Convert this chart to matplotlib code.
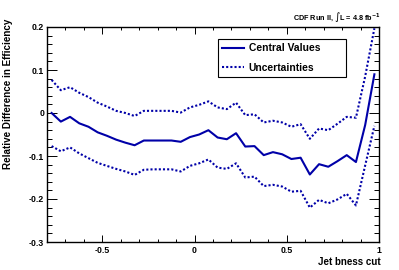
import matplotlib
matplotlib.use("Agg")
import matplotlib.pyplot as plt
from matplotlib.ticker import MultipleLocator

# bin centres of the b-ness cut scan
cut = [-0.775, -0.725, -0.675, -0.625, -0.575, -0.525, -0.475, -0.425, -0.375,
       -0.325, -0.275, -0.225, -0.175, -0.125, -0.075, -0.025, 0.025, 0.075,
       0.125, 0.175, 0.225, 0.275, 0.325, 0.375, 0.425, 0.475, 0.525, 0.575,
       0.625, 0.675, 0.725, 0.775, 0.825, 0.875, 0.925, 0.975]

central = [0.000, -0.020, -0.009, -0.024, -0.032, -0.045, -0.053, -0.062, -0.069,
           -0.075, -0.064, -0.064, -0.064, -0.064, -0.067, -0.056, -0.050, -0.040,
           -0.057, -0.061, -0.047, -0.078, -0.077, -0.098, -0.091, -0.096, -0.107, -0.104,
           -0.143, -0.119, -0.125, -0.112, -0.098, -0.114, -0.028, 0.090]

upper = [0.077, 0.053, 0.060, 0.047, 0.037, 0.024, 0.015, 0.005, 0.000,
         -0.007, 0.005, 0.005, 0.005, 0.005, 0.001, 0.013, 0.019, 0.027,
         0.013, 0.009, 0.024, -0.005, -0.003, -0.022, -0.018, -0.022, -0.032, -0.026,
         -0.060, -0.036, -0.040, -0.025, -0.009, -0.011, 0.085, 0.197]

lower = [-0.077, -0.089, -0.080, -0.094, -0.105, -0.116, -0.123, -0.130, -0.136,
         -0.144, -0.132, -0.131, -0.131, -0.131, -0.136, -0.123, -0.117, -0.108,
         -0.127, -0.130, -0.117, -0.150, -0.148, -0.170, -0.167, -0.171, -0.183, -0.181,
         -0.220, -0.202, -0.210, -0.201, -0.188, -0.215, -0.122, -0.030]

blue = "#0000a8"
plt.rcParams["font.family"] = ["Liberation Sans", "DejaVu Sans"]
plt.rcParams["font.weight"] = "bold"

fig = plt.figure(figsize=(3.99, 2.70), dpi=100)
ax = fig.add_axes([47 / 399, 28 / 270, 332 / 399, 215 / 270])

ax.plot(cut, central, color=blue, lw=1.5, label="Central Values")
ax.plot(cut, upper, color=blue, lw=1.5, ls=(0, (1, 1)), label="Uncertainties")
ax.plot(cut, lower, color=blue, lw=1.5, ls=(0, (1, 1)))

ax.set_xlim(-0.8, 1.0)
ax.set_ylim(-0.3, 0.2)
ax.xaxis.set_major_locator(MultipleLocator(0.5))
ax.xaxis.set_minor_locator(MultipleLocator(0.1))
ax.yaxis.set_major_locator(MultipleLocator(0.1))
ax.yaxis.set_minor_locator(MultipleLocator(0.02))
ax.set_xticks([-0.5, 0, 0.5, 1])
ax.set_xticklabels(["-0.5", "0", "0.5", "1"])
ax.set_yticks([-0.3, -0.2, -0.1, 0, 0.1, 0.2])
ax.set_yticklabels(["-0.3", "-0.2", "-0.1", "0", "0.1", "0.2"])
ax.tick_params(axis="both", which="both", direction="in", top=True, right=True,
               labelsize=6.3, width=0.7)
ax.tick_params(axis="x", which="major", length=4.8, pad=3)
ax.tick_params(axis="x", which="minor", length=2.4)
ax.tick_params(axis="y", which="major", length=7.2, pad=2)
ax.tick_params(axis="y", which="minor", length=3.6)
for s in ax.spines.values():
    s.set_linewidth(1.0)

leg = ax.legend(loc="upper left", bbox_to_anchor=(0.515, 0.758, 0.386, 0.186),
                mode="expand", fontsize=7.4, frameon=True, fancybox=False,
                edgecolor="black", framealpha=1, handlelength=2.1,
                handletextpad=0.5, labelspacing=0.95, borderpad=0.4,
                borderaxespad=0)
leg.get_frame().set_linewidth(0.8)

fig.text(8 / 399, 1 - 19 / 270, "Relative Difference in Efficiency", rotation=90,
         ha="center", va="top", fontsize=7.1)
fig.text(381 / 399, 1 - 262 / 270, "Jet bness cut", ha="right", va="center",
         fontsize=7)
fig.text(380 / 399, 1 - 17 / 270, r"CDF Run II, $\int$L = 4.8 fb$^{-1}$",
         ha="right", va="center", fontsize=5.2)

fig.savefig("out.png", dpi=100)
